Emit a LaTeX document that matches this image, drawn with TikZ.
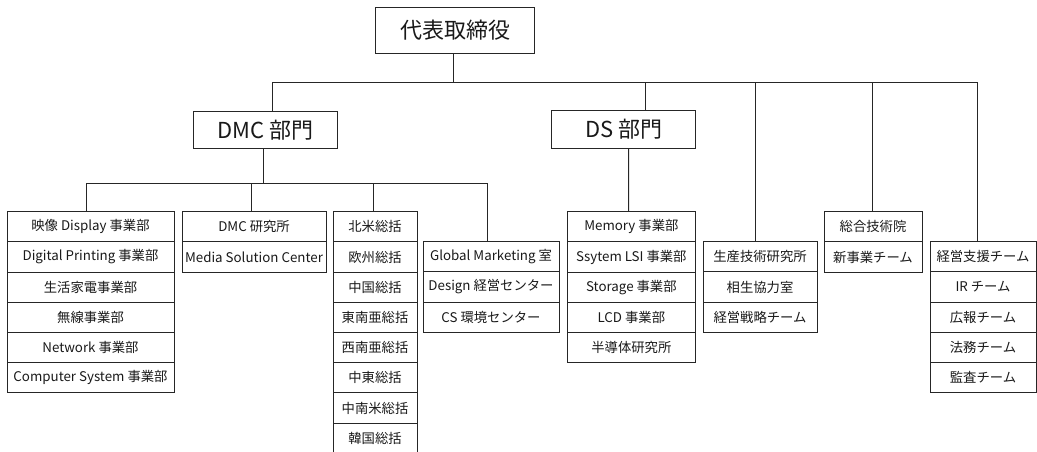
\documentclass[tikz,border=0pt]{standalone}
\usepackage{fontspec}
\setmainfont{Noto Sans CJK JP}
\usetikzlibrary{calc}
\tikzset{
  line/.style={draw=black!85, line width=0.7pt},
  cell/.style={line, rectangle, inner sep=0pt, minimum height=22.65pt, font=\fontsize{10}{12}\selectfont, text=black!90},
  head/.style={line, rectangle, inner sep=0pt, font=\fontsize{16.5}{19}\selectfont, text=black!90},
}
\newcommand\colcell[5]{%
  \pgfmathsetmacro\cx{(#2+#3)/2}%
  \pgfmathsetmacro\cw{(#3-#2)*0.75}%
  \pgfmathsetmacro\cy{#4+15.1}%
  \node[cell, minimum width=\cw pt] (#1) at (\cx,\cy) {#5};}
\begin{document}
\begin{tikzpicture}[x=0.75pt,y=-0.75pt]
\useasboundingbox (0,0) rectangle (1037,452);
% top level
\node[head, minimum width=118.95pt, minimum height=34.5pt] (top) at (455,30.3) {代表取締役};
\node[head, minimum width=108pt, minimum height=28pt] (dmc) at (265.3,129.7) {DMC 部門};
\node[head, minimum width=108pt, minimum height=28pt] (ds) at (623.7,129.5) {DS 部門};
% column A
\colcell{a1}{7}{174}{211.7}{映像 Display 事業部}
\colcell{a2}{7}{174}{241.9}{Digital Printing 事業部}
\colcell{a3}{7}{174}{272.1}{生活家電事業部}
\colcell{a4}{7}{174}{302.3}{無線事業部}
\colcell{a5}{7}{174}{332.5}{Network 事業部}
\colcell{a6}{7}{174}{362.7}{Computer System 事業部}
% column B
\colcell{b1}{182}{326}{211.7}{DMC 研究所}
\colcell{b2}{182}{326}{241.9}{Media Solution Center}
% column C
\colcell{c1}{333}{417}{211.7}{北米総括}
\colcell{c2}{333}{417}{241.9}{欧州総括}
\colcell{c3}{333}{417}{272.1}{中国総括}
\colcell{c4}{333}{417}{302.3}{東南亜総括}
\colcell{c5}{333}{417}{332.5}{西南亜総括}
\colcell{c6}{333}{417}{362.7}{中東総括}
\colcell{c7}{333}{417}{392.9}{中南米総括}
\colcell{c8}{333}{417}{423.1}{韓国総括}
% column D
\colcell{d1}{423}{559}{241.7}{Global Marketing 室}
\colcell{d2}{423}{559}{271.9}{Design 経営センター}
\colcell{d3}{423}{559}{302.1}{CS 環境センター}
% column E
\colcell{e1}{567}{695.7}{211.7}{Memory 事業部}
\colcell{e2}{567}{695.7}{241.9}{Ssytem LSI 事業部}
\colcell{e3}{567}{695.7}{272.1}{Storage 事業部}
\colcell{e4}{567}{695.7}{302.3}{LCD 事業部}
\colcell{e5}{567}{695.7}{332.5}{半導体研究所}
% column F
\colcell{f1}{703}{817}{241.7}{生産技術研究所}
\colcell{f2}{703}{817}{271.9}{相生協力室}
\colcell{f3}{703}{817}{302.1}{経営戦略チーム}
% column G
\colcell{g1}{824}{922}{211.7}{総合技術院}
\colcell{g2}{824}{922}{241.9}{新事業チーム}
% column H
\colcell{h1}{930}{1036}{241.7}{経営支援チーム}
\colcell{h2}{930}{1036}{271.9}{IR チーム}
\colcell{h3}{930}{1036}{302.1}{広報チーム}
\colcell{h4}{930}{1036}{332.3}{法務チーム}
\colcell{h5}{930}{1036}{362.5}{監査チーム}
% bus coordinates
\coordinate (bus1) at (0,82.3);
\coordinate (bus2) at (0,183.3);
% attachment points on box edges
\coordinate (ptop) at ($(top.south)+(-1.7,0)$);
\coordinate (pdmcn) at ($(dmc.north)+(7.4,0)$);
\coordinate (pdsn) at ($(ds.north)+(21.3,0)$);
\coordinate (pf) at ($(f1.north)+(-5,0)$);
\coordinate (pg) at ($(g1.north)+(-1,0)$);
\coordinate (ph) at ($(h1.north)+(-6,0)$);
\coordinate (pdmcs) at ($(dmc.south)+(-2,0)$);
\coordinate (pa) at ($(a1.north)+(-4.5,0)$);
\coordinate (pb) at ($(b1.north)+(-2.3,0)$);
\coordinate (pc) at ($(c1.north)+(-1.7,0)$);
\coordinate (pd) at ($(d1.north)+(-3.7,0)$);
\coordinate (pdss) at ($(ds.south)+(5,0)$);
\coordinate (pe) at ($(e1.north)+(-2.7,0)$);
% connectors from top
\draw[line] (ptop) -- (ptop |- bus1);
\draw[line] (pdmcn |- bus1) -- (ph |- bus1);
\draw[line] (pdmcn) -- (pdmcn |- bus1);
\draw[line] (pdsn) -- (pdsn |- bus1);
\draw[line] (pf) -- (pf |- bus1);
\draw[line] (pg) -- (pg |- bus1);
\draw[line] (ph) -- (ph |- bus1);
% DMC subtree
\draw[line] (pdmcs) -- (pdmcs |- bus2);
\draw[line] (pa |- bus2) -- (pd |- bus2);
\draw[line] (pa) -- (pa |- bus2);
\draw[line] (pb) -- (pb |- bus2);
\draw[line] (pc) -- (pc |- bus2);
\draw[line] (pd) -- (pd |- bus2);
% DS subtree
\draw[line] (pdss) -- (pe);
\end{tikzpicture}
\end{document}
